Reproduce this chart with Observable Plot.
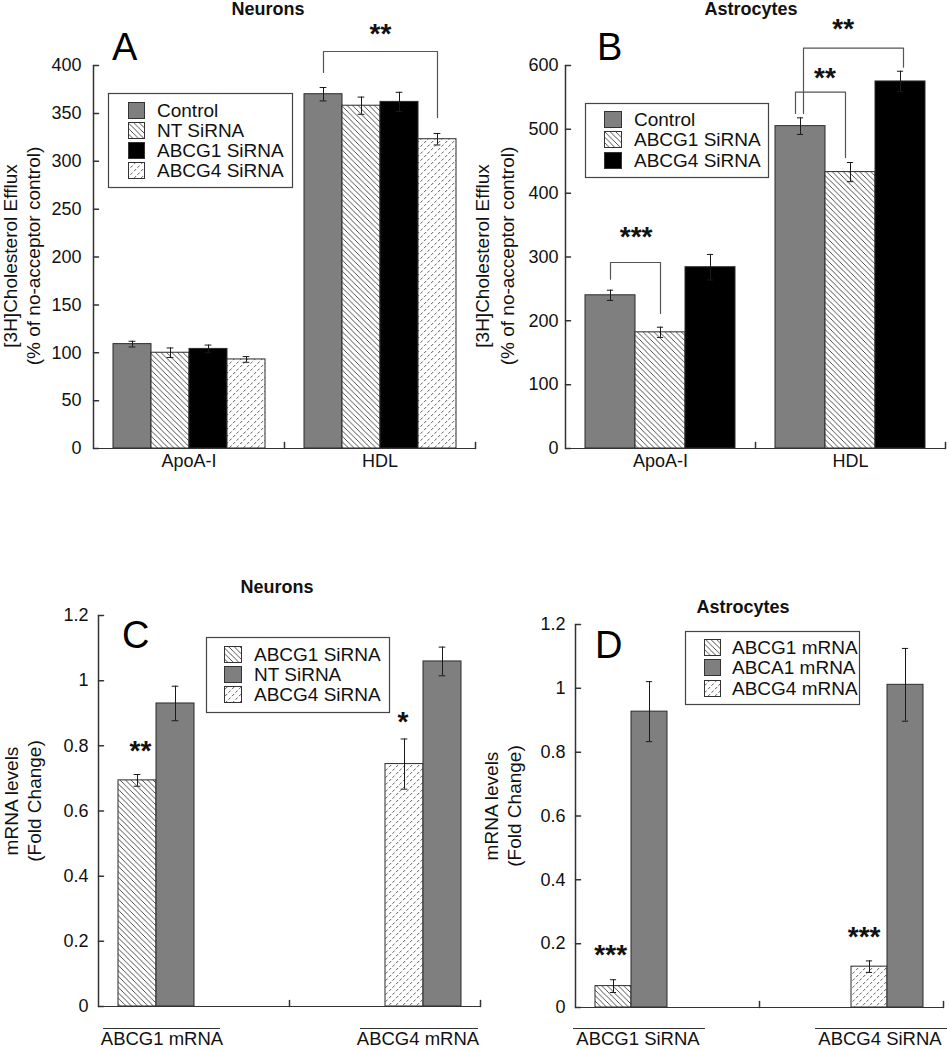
<!DOCTYPE html>
<html>
<head>
<meta charset="utf-8">
<script src="https://cdn.jsdelivr.net/npm/d3@7"></script>
<script src="https://cdn.jsdelivr.net/npm/@observablehq/plot@0.6"></script>
<style>
  html, body { margin: 0; padding: 0; background: #fff; }
  #root { position: relative; width: 949px; height: 1050px; overflow: hidden; background: #fff; }
  #root svg { position: absolute; }
</style>
</head>
<body>
<svg width="0" height="0" style="position:absolute">
  <defs>
    <pattern id="hatch" patternUnits="userSpaceOnUse" width="5.5" height="5.5">
      <rect width="5.5" height="5.5" fill="#fff"/>
      <path d="M-1,-1 L6.5,6.5 M-1,4.5 L1,6.5 M4.5,-1 L6.5,1" stroke="#3a3a3a" stroke-width="0.9"/>
    </pattern>
    <pattern id="dots" patternUnits="userSpaceOnUse" width="7" height="7">
      <rect width="7" height="7" fill="#fff"/>
      <path d="M1,3.2 L3.2,1 M4.5,6.7 L6.7,4.5" stroke="#4a4a4a" stroke-width="0.9"/>
    </pattern>
  </defs>
</svg>
<div id="root"></div>
<script>
// ---------------- data ----------------
// Panel A (Neurons, efflux)
const aGroups = ["ApoA-I", "HDL"];
const aSeries = ["Control", "NT SiRNA", "ABCG1 SiRNA", "ABCG4 SiRNA"];
const aValues = [[109, 100, 104, 93], [370, 358, 362, 323]];
const aErrors = [[3, 5, 4, 3], [7, 9, 10, 6]];
const aTicks = [0, 50, 100, 150, 200, 250, 300, 350, 400];
const aBrackets = [{g: "HDL", a: 0, b: 3, top: 414.6, la: 392.7, rb: 345.7, dx: 0}];
const aStars = [{g: "HDL", slot: 1, dx: 19, y: 439.7, t: "**"}];

// Panel B (Astrocytes, efflux)
const bGroups = ["ApoA-I", "HDL"];
const bSeries = ["Control", "ABCG1 SiRNA", "ABCG4 SiRNA"];
const bValues = [[240, 182, 284], [505, 433, 575]];
const bErrors = [[8, 8, 20], [13, 15, 16]];
const bTicks = [0, 100, 200, 300, 400, 500, 600];
const bBrackets = [
  {g: "ApoA-I", a: 0, b: 1, top: 291.4, la: 265.2, rb: 211.5, dx: 0},
  {g: "HDL", a: 0, b: 1, top: 558.2, la: 524.8, rb: 455.9, dx: -5},
  {g: "HDL", a: 0, b: 2, top: 627.1, la: 524.8, rb: 597.3, dx: 3}
];
const bStars = [
  {g: "ApoA-I", slot: 0, dx: 25.6, y: 341.5, t: "***"},
  {g: "HDL", slot: 0, dx: 24.5, y: 590.6, t: "**"},
  {g: "HDL", slot: 1, dx: -7.3, y: 667.4, t: "**"}
];

// Panel C (Neurons, mRNA)
const cGroups = ["ABCG1 mRNA", "ABCG4 mRNA"];
const cSeries = ["ABCG1 SiRNA", "NT SiRNA", "ABCG4 SiRNA"];
const cSlotSeries = ["ABCG1 SiRNA", "NT SiRNA", "ABCG4 SiRNA", "NT SiRNA"];
const cValues = [[0.694, 0.930, null, null], [null, null, 0.744, 1.059]];
const cErrors = [[0.018, 0.053, null, null], [null, null, 0.077, 0.044]];
const mTicks = [0, 0.2, 0.4, 0.6, 0.8, 1, 1.2];
const cStars = [
  {g: "ABCG1 mRNA", slot: 0, dx: 3, y: 0.804, t: "**"},
  {g: "ABCG4 mRNA", slot: 2, dx: -1.5, y: 0.893, t: "*"}
];

// Panel D (Astrocytes, mRNA)
const dGroups = ["ABCG1 SiRNA", "ABCG4 SiRNA"];
const dSeries = ["ABCG1 mRNA", "ABCA1 mRNA", "ABCG4 mRNA"];
const dSlotSeries = ["ABCG1 mRNA", "ABCA1 mRNA", "ABCG4 mRNA", "ABCA1 mRNA"];
const dValues = [[0.067, 0.927, null, null], [null, null, 0.128, 1.011]];
const dErrors = [[0.020, 0.094, null, null], [null, null, 0.018, 0.114]];
const dStars = [
  {g: "ABCG1 SiRNA", slot: 0, dx: -2.8, y: 0.186, t: "***"},
  {g: "ABCG4 SiRNA", slot: 2, dx: -5.4, y: 0.244, t: "***"}
];

const titles = ["Neurons", "Astrocytes", "Neurons", "Astrocytes"];
const letters = ["A", "B", "C", "D"];
const yLabelEfflux = ["[3H]Cholesterol Efflux", "(% of no-acceptor control)"];
const yLabelMrna = ["mRNA levels", "(Fold Change)"];

// ---------------- styles ----------------
const FONT = "'Liberation Sans', Arial, Helvetica, sans-serif";
const GRAY = "#7f7f7f", HATCH = "url(#hatch)", DOTS = "url(#dots)", BLACK = "#000";
const fillsA = {"Control": GRAY, "NT SiRNA": HATCH, "ABCG1 SiRNA": BLACK, "ABCG4 SiRNA": DOTS};
const fillsB = {"Control": GRAY, "ABCG1 SiRNA": HATCH, "ABCG4 SiRNA": BLACK};
const fillsC = {"ABCG1 SiRNA": HATCH, "NT SiRNA": GRAY, "ABCG4 SiRNA": DOTS};
const fillsD = {"ABCG1 mRNA": HATCH, "ABCA1 mRNA": GRAY, "ABCG4 mRNA": DOTS};
const AX = "#333";

const root = document.getElementById("root");

function makePanel(c) {
  const slots = c.slotSeries.map((_, i) => i);
  const table = [];
  c.groups.forEach((g, gi) => slots.forEach(s => {
    const v = c.values[gi][s];
    if (v != null) table.push({g, slot: s, series: c.slotSeries[s], v, e: c.errors[gi][s]});
  }));
  const innerW = c.width - c.mL - c.mR;
  const facetW = innerW / c.groups.length;
  const step = facetW / (slots.length + 2 * c.po);
  const capInset = Math.max(0, (step - 7) / 2);
  const plotH = c.height - c.mT - c.mB;
  const lineShape = {draw(ctx, l) { ctx.moveTo(0, 0); ctx.lineTo(0, -l); }};

  const marks = [
    Plot.barY(table, {fx: "g", x: "slot", y: "v", fill: d => c.fills[d.series], stroke: "#2b2b2b", strokeWidth: 1}),
    Plot.ruleX(table, {fx: "g", x: "slot", y1: d => d.v - d.e, y2: d => d.v + d.e, stroke: "#1a1a1a", strokeWidth: 1}),
    Plot.tickY(table, {fx: "g", x: "slot", y: d => d.v + d.e, insetLeft: capInset, insetRight: capInset, stroke: "#1a1a1a"}),
    Plot.tickY(table, {fx: "g", x: "slot", y: d => d.v - d.e, insetLeft: capInset, insetRight: capInset, stroke: "#1a1a1a"}),
    Plot.ruleY([0], {stroke: AX}),
    Plot.vector([{g: c.groups[0]}], {fx: "g", frameAnchor: "bottom-left", length: plotH, rotate: 0, anchor: "start", shape: lineShape, stroke: AX}),
    Plot.vector(c.ticks.map(v => ({g: c.groups[0], v})), {fx: "g", y: "v", frameAnchor: "left", length: 5, rotate: 90, anchor: "start", shape: lineShape, stroke: AX}),
    Plot.vector(c.groups.map(g => ({g})), {fx: "g", frameAnchor: "bottom-right", length: 6, rotate: 0, anchor: "start", shape: lineShape, stroke: AX})
  ];
  for (const b of c.brackets) {
    const pts = [
      {g: b.g, slot: b.a, y: b.la}, {g: b.g, slot: b.a, y: b.top},
      {g: b.g, slot: b.b, y: b.top}, {g: b.g, slot: b.b, y: b.rb}
    ];
    marks.push(Plot.line(pts, {fx: "g", x: "slot", y: "y", stroke: "#555", strokeWidth: 1.2, dx: b.dx}));
  }
  for (const s of c.stars) {
    marks.push(Plot.text([s], {fx: "g", x: "slot", y: "y", text: "t", dx: s.dx, dy: 7, fontSize: 28, fontWeight: "bold", fill: "#111"}));
  }

  const svg = Plot.plot({
    width: c.width, height: c.height,
    marginLeft: c.mL, marginRight: c.mR, marginTop: c.mT, marginBottom: c.mB,
    style: {fontFamily: FONT, fontSize: "18px", color: "#111", background: "transparent", overflow: "visible"},
    fx: {domain: c.groups, padding: 0, axis: c.showFx ? "bottom" : null, label: null, tickSize: 0, tickPadding: 6},
    x: {type: "band", domain: slots, paddingInner: 0, paddingOuter: c.po, axis: null},
    y: {domain: [0, c.ymax], ticks: c.ticks, tickSize: 0, tickPadding: c.tickPad, tickFormat: d => String(d), label: null},
    color: {type: "identity"},
    marks
  });
  svg.style.left = c.left + "px";
  svg.style.top = c.top + "px";
  root.appendChild(svg);
}

makePanel({groups: aGroups, slotSeries: aSeries, values: aValues, errors: aErrors, fills: fillsA,
  ymax: 400, ticks: aTicks, left: 0, top: 0, width: 480, height: 480, mL: 92, mR: 5, mT: 65, mB: 32,
  po: 0.5, tickPad: 12, showFx: true, brackets: aBrackets, stars: aStars});
makePanel({groups: bGroups, slotSeries: bSeries, values: bValues, errors: bErrors, fills: fillsB,
  ymax: 600, ticks: bTicks, left: 475, top: 0, width: 474, height: 480, mL: 89, mR: 4, mT: 65, mB: 32,
  po: 0.375, tickPad: 7, showFx: true, brackets: bBrackets, stars: bStars});
makePanel({groups: cGroups, slotSeries: cSlotSeries, values: cValues, errors: cErrors, fills: fillsC,
  ymax: 1.2, ticks: mTicks, left: 0, top: 540, width: 485, height: 510, mL: 97, mR: 5, mT: 75, mB: 44,
  po: 0.5, tickPad: 10, showFx: false, brackets: [], stars: cStars});
makePanel({groups: dGroups, slotSeries: dSlotSeries, values: dValues, errors: dErrors, fills: fillsD,
  ymax: 1.2, ticks: mTicks, left: 475, top: 540, width: 474, height: 510, mL: 100, mR: 6, mT: 84, mB: 43,
  po: 0.5, tickPad: 10, showFx: false, brackets: [], stars: dStars});

// ---------------- overlay text, legends ----------------
const ov = d3.select(root).append("svg")
  .attr("width", 949).attr("height", 1050)
  .style("left", "0px").style("top", "0px")
  .style("font-family", FONT).style("pointer-events", "none");

const titlePos = [[268, 15], [751, 15], [277, 593], [743, 613]];
titles.forEach((t, i) => ov.append("text").attr("x", titlePos[i][0]).attr("y", titlePos[i][1])
  .attr("text-anchor", "middle").attr("font-weight", "bold").attr("font-size", 18).attr("fill", "#111").text(t));

const letterPos = [[112, 60], [597, 60], [122, 648], [595, 658]];
letters.forEach((t, i) => ov.append("text").attr("x", letterPos[i][0]).attr("y", letterPos[i][1])
  .attr("font-size", 38).attr("fill", "#000").text(t));

const yLabPos = [
  {lines: yLabelEfflux, xs: [17, 40], cy: 256},
  {lines: yLabelEfflux, xs: [489, 514], cy: 256},
  {lines: yLabelMrna, xs: [18, 41], cy: 801},
  {lines: yLabelMrna, xs: [498, 521], cy: 806}
];
for (const p of yLabPos) {
  p.lines.forEach((t, j) => ov.append("text")
    .attr("transform", `translate(${p.xs[j]},${p.cy}) rotate(-90)`)
    .attr("text-anchor", "middle").attr("font-size", 19).attr("fill", "#111").text(t));
}

const legends = [
  {items: aSeries, fills: fillsA, x: 108, y: 93, w: 184, h: 94, sx: 128, sw: 16, tx: 157, rows: [110, 130, 150, 170]},
  {items: bSeries, fills: fillsB, x: 585, y: 103, w: 183, h: 74, sx: 604, sw: 17, tx: 634, rows: [119, 139, 160]},
  {items: cSeries, fills: fillsC, x: 206, y: 637, w: 183, h: 75, sx: 224, sw: 17, tx: 254, rows: [654, 674, 694]},
  {items: dSeries, fills: fillsD, x: 685, y: 631, w: 174, h: 73, sx: 704, sw: 16, tx: 732, rows: [647, 667, 688]}
];
for (const L of legends) {
  ov.append("rect").attr("x", L.x + 0.5).attr("y", L.y + 0.5).attr("width", L.w).attr("height", L.h)
    .attr("fill", "#fff").attr("stroke", "#444").attr("stroke-width", 1.2);
  L.items.forEach((name, i) => {
    const cy = L.rows[i];
    ov.append("rect").attr("x", L.sx + 0.5).attr("y", cy - 8 + 0.5).attr("width", L.sw).attr("height", 16)
      .attr("fill", L.fills[name]).attr("stroke", "#333").attr("stroke-width", 1);
    ov.append("text").attr("x", L.tx).attr("y", cy + 7).attr("font-size", 19).attr("fill", "#111").text(name);
  });
}

const groupLabels = [
  {t: cGroups[0], cx: 162, x1: 103, x2: 220},
  {t: cGroups[1], cx: 418, x1: 360, x2: 478},
  {t: dGroups[0], cx: 638, x1: 573, x2: 705},
  {t: dGroups[1], cx: 880, x1: 815, x2: 947}
];
for (const gl of groupLabels) {
  ov.append("line").attr("x1", gl.x1).attr("x2", gl.x2).attr("y1", 1028.5).attr("y2", 1028.5)
    .attr("stroke", "#333").attr("stroke-width", 1.2);
  ov.append("text").attr("x", gl.cx).attr("y", 1045).attr("text-anchor", "middle")
    .attr("font-size", 18.5).attr("fill", "#111").text(gl.t);
}
</script>
</body>
</html>
